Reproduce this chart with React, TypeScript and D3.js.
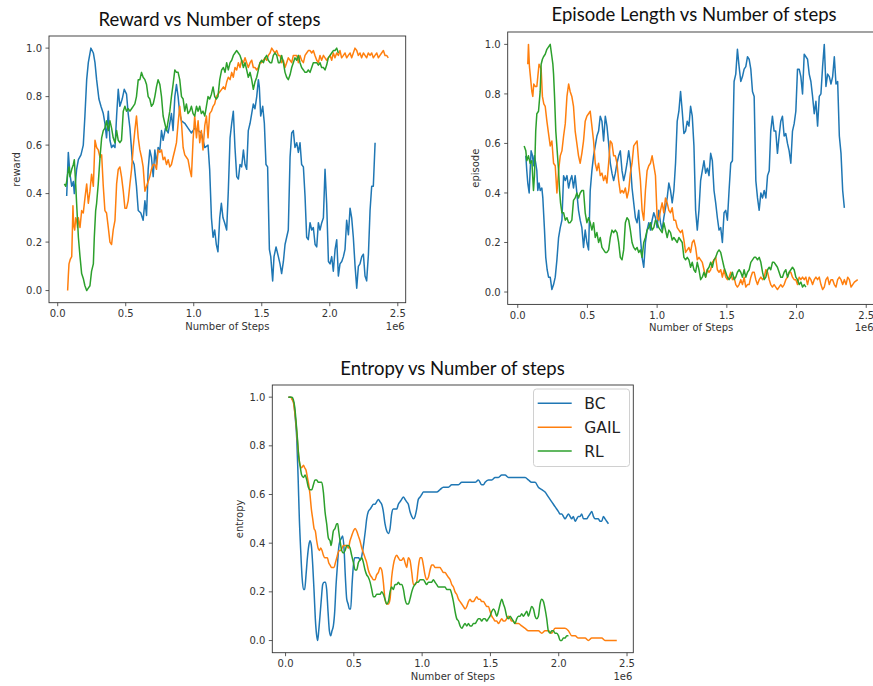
import React from 'react';
import * as d3 from 'd3';

type Pt = [number, number];

const SERIES_NAMES = ['BC', 'GAIL', 'RL'];
const COLORS = ['#1f77b4', '#ff7f0e', '#2ca02c'];
const X_TICKS = [0, 0.5, 1.0, 1.5, 2.0, 2.5];
const Y_TICKS = [0, 0.2, 0.4, 0.6, 0.8, 1.0];

// x in units of 1e6 steps, y normalised
const rewardBC: Pt[] = [[0.066,0.39],[0.078,0.57],[0.090,0.48],[0.103,0.43],[0.115,0.45],[0.122,0.40],[0.139,0.50],[0.152,0.54],[0.171,0.56],[0.188,0.60],[0.200,0.72],[0.213,0.87],[0.225,0.94],[0.244,1.00],[0.262,0.98],[0.274,0.94],[0.286,0.87],[0.303,0.79],[0.318,0.76],[0.335,0.73],[0.347,0.69],[0.359,0.63],[0.372,0.74],[0.384,0.62],[0.396,0.59],[0.408,0.60],[0.421,0.59],[0.433,0.72],[0.445,0.83],[0.457,0.76],[0.474,0.79],[0.489,0.83],[0.506,0.81],[0.518,0.73],[0.531,0.67],[0.548,0.54],[0.562,0.52],[0.579,0.43],[0.592,0.33],[0.611,0.32],[0.628,0.29],[0.641,0.37],[0.653,0.31],[0.665,0.50],[0.677,0.58],[0.689,0.55],[0.702,0.47],[0.714,0.58],[0.726,0.52],[0.738,0.59],[0.751,0.58],[0.763,0.66],[0.775,0.62],[0.792,0.67],[0.812,0.65],[0.824,0.69],[0.836,0.73],[0.848,0.66],[0.861,0.80],[0.873,0.85],[0.885,0.80],[0.897,0.73],[0.910,0.70],[0.934,0.69],[0.958,0.67],[0.983,0.65],[1.007,0.67],[1.032,0.66],[1.056,0.65],[1.081,0.59],[1.105,0.60],[1.117,0.50],[1.130,0.30],[1.142,0.22],[1.154,0.25],[1.166,0.19],[1.178,0.16],[1.191,0.30],[1.203,0.36],[1.215,0.30],[1.227,0.28],[1.242,0.25],[1.254,0.41],[1.267,0.63],[1.279,0.69],[1.291,0.74],[1.303,0.59],[1.316,0.47],[1.328,0.46],[1.340,0.52],[1.352,0.51],[1.365,0.58],[1.377,0.52],[1.389,0.50],[1.401,0.66],[1.414,0.69],[1.426,0.73],[1.438,0.77],[1.450,0.75],[1.463,0.80],[1.475,0.87],[1.482,0.84],[1.492,0.72],[1.507,0.76],[1.519,0.69],[1.531,0.52],[1.543,0.51],[1.556,0.17],[1.566,0.14],[1.580,0.04],[1.590,0.14],[1.605,0.18],[1.622,0.14],[1.634,0.11],[1.646,0.07],[1.659,0.12],[1.671,0.19],[1.683,0.22],[1.695,0.25],[1.708,0.55],[1.720,0.65],[1.732,0.66],[1.744,0.59],[1.757,0.61],[1.769,0.57],[1.781,0.61],[1.793,0.52],[1.806,0.51],[1.818,0.39],[1.830,0.22],[1.842,0.21],[1.855,0.28],[1.867,0.25],[1.879,0.26],[1.892,0.19],[1.904,0.18],[1.916,0.28],[1.928,0.25],[1.941,0.28],[1.953,0.30],[1.965,0.50],[1.977,0.36],[1.990,0.12],[2.002,0.11],[2.014,0.14],[2.026,0.08],[2.039,0.17],[2.051,0.21],[2.063,0.06],[2.075,0.11],[2.088,0.12],[2.100,0.14],[2.112,0.17],[2.124,0.29],[2.137,0.23],[2.149,0.34],[2.161,0.30],[2.173,0.22],[2.186,0.10],[2.198,0.01],[2.210,0.10],[2.222,0.11],[2.235,0.14],[2.247,0.15],[2.259,0.06],[2.271,0.04],[2.284,0.15],[2.296,0.33],[2.308,0.43],[2.320,0.43],[2.333,0.61]];

const rewardGAIL: Pt[] = [[0.073,0.00],[0.078,0.06],[0.083,0.11],[0.093,0.13],[0.103,0.14],[0.108,0.25],[0.112,0.35],[0.117,0.27],[0.125,0.25],[0.132,0.30],[0.139,0.29],[0.146,0.26],[0.152,0.30],[0.164,0.26],[0.176,0.33],[0.188,0.32],[0.200,0.38],[0.213,0.44],[0.225,0.36],[0.237,0.41],[0.249,0.48],[0.262,0.43],[0.274,0.62],[0.286,0.59],[0.298,0.58],[0.311,0.55],[0.323,0.56],[0.335,0.43],[0.347,0.33],[0.359,0.32],[0.372,0.26],[0.384,0.20],[0.396,0.19],[0.408,0.25],[0.421,0.29],[0.433,0.44],[0.445,0.50],[0.457,0.51],[0.469,0.47],[0.482,0.41],[0.494,0.34],[0.506,0.34],[0.518,0.37],[0.531,0.44],[0.543,0.50],[0.555,0.59],[0.567,0.66],[0.579,0.72],[0.592,0.63],[0.604,0.58],[0.616,0.55],[0.628,0.51],[0.641,0.41],[0.653,0.43],[0.665,0.45],[0.677,0.47],[0.689,0.50],[0.702,0.52],[0.714,0.52],[0.726,0.50],[0.738,0.58],[0.751,0.57],[0.763,0.58],[0.775,0.54],[0.787,0.55],[0.800,0.52],[0.812,0.54],[0.824,0.51],[0.836,0.52],[0.848,0.55],[0.861,0.58],[0.873,0.61],[0.885,0.69],[0.897,0.76],[0.910,0.69],[0.922,0.59],[0.934,0.56],[0.946,0.55],[0.958,0.54],[0.971,0.50],[0.983,0.47],[0.995,0.62],[1.007,0.72],[1.020,0.63],[1.032,0.70],[1.044,0.61],[1.056,0.66],[1.068,0.58],[1.081,0.68],[1.093,0.72],[1.105,0.63],[1.117,0.73],[1.130,0.74],[1.142,0.76],[1.154,0.77],[1.166,0.80],[1.178,0.81],[1.205,0.83],[1.218,0.84],[1.230,0.83],[1.242,0.86],[1.254,0.88],[1.267,0.87],[1.279,0.90],[1.291,0.88],[1.303,0.92],[1.316,0.91],[1.328,0.94],[1.340,0.92],[1.352,0.95],[1.365,0.94],[1.377,0.96],[1.389,0.94],[1.401,0.92],[1.414,0.94],[1.426,0.95],[1.438,0.92],[1.450,0.92],[1.463,0.91],[1.475,0.92],[1.487,0.94],[1.499,0.94],[1.512,0.95],[1.524,0.96],[1.536,0.95],[1.548,0.97],[1.561,0.98],[1.573,1.00],[1.585,0.99],[1.597,0.98],[1.610,0.99],[1.622,0.97],[1.634,0.97],[1.646,0.94],[1.659,0.95],[1.671,0.92],[1.683,0.94],[1.695,0.96],[1.708,0.95],[1.720,0.94],[1.732,0.97],[1.744,0.97],[1.757,0.97],[1.769,0.94],[1.781,0.97],[1.793,0.95],[1.806,0.94],[1.818,0.97],[1.830,0.98],[1.842,0.99],[1.855,0.99],[1.867,0.98],[1.879,0.99],[1.891,0.97],[1.904,0.95],[1.916,0.94],[1.928,0.97],[1.940,0.95],[1.953,0.97],[1.965,0.96],[1.977,0.95],[1.989,0.96],[2.002,0.97],[2.014,0.95],[2.026,0.98],[2.038,0.96],[2.051,0.98],[2.063,0.97],[2.075,0.99],[2.087,0.96],[2.100,0.97],[2.112,0.98],[2.124,0.96],[2.136,0.97],[2.149,0.98],[2.161,0.96],[2.173,0.98],[2.185,1.00],[2.198,0.99],[2.210,0.97],[2.222,0.98],[2.234,0.96],[2.247,0.98],[2.259,0.97],[2.271,0.96],[2.283,0.98],[2.296,0.97],[2.308,0.98],[2.320,0.96],[2.332,0.97],[2.345,0.98],[2.357,0.96],[2.369,0.97],[2.381,0.98],[2.394,0.99],[2.406,0.97],[2.418,0.97],[2.430,0.96]];

const rewardRL: Pt[] = [[0.049,0.44],[0.059,0.43],[0.066,0.45],[0.073,0.48],[0.083,0.51],[0.090,0.47],[0.103,0.50],[0.115,0.52],[0.122,0.54],[0.132,0.44],[0.139,0.36],[0.152,0.22],[0.164,0.14],[0.176,0.07],[0.188,0.05],[0.200,0.02],[0.213,0.00],[0.225,0.01],[0.237,0.02],[0.249,0.08],[0.262,0.11],[0.269,0.22],[0.279,0.33],[0.286,0.36],[0.298,0.44],[0.311,0.55],[0.323,0.63],[0.335,0.66],[0.347,0.67],[0.359,0.70],[0.372,0.66],[0.384,0.70],[0.396,0.67],[0.408,0.63],[0.421,0.61],[0.433,0.66],[0.445,0.62],[0.457,0.61],[0.469,0.62],[0.482,0.74],[0.494,0.76],[0.506,0.74],[0.518,0.75],[0.531,0.74],[0.543,0.75],[0.555,0.76],[0.567,0.77],[0.579,0.80],[0.592,0.87],[0.604,0.87],[0.616,0.90],[0.628,0.88],[0.641,0.87],[0.653,0.85],[0.665,0.80],[0.677,0.79],[0.689,0.76],[0.702,0.77],[0.714,0.80],[0.726,0.84],[0.738,0.87],[0.751,0.85],[0.763,0.80],[0.775,0.72],[0.787,0.69],[0.800,0.66],[0.812,0.70],[0.824,0.74],[0.836,0.80],[0.848,0.85],[0.861,0.91],[0.873,0.90],[0.885,0.90],[0.897,0.87],[0.910,0.80],[0.922,0.79],[0.934,0.74],[0.946,0.77],[0.958,0.73],[0.971,0.74],[0.983,0.76],[0.995,0.73],[1.007,0.72],[1.020,0.76],[1.032,0.74],[1.044,0.76],[1.056,0.73],[1.068,0.74],[1.081,0.72],[1.093,0.76],[1.105,0.80],[1.117,0.79],[1.130,0.81],[1.142,0.84],[1.154,0.80],[1.166,0.79],[1.178,0.80],[1.191,0.87],[1.205,0.91],[1.218,0.92],[1.230,0.90],[1.242,0.94],[1.254,0.91],[1.267,0.94],[1.279,0.95],[1.291,0.97],[1.303,0.98],[1.316,0.99],[1.328,0.98],[1.340,0.97],[1.352,0.95],[1.365,0.92],[1.377,0.94],[1.389,0.91],[1.401,0.88],[1.414,0.90],[1.426,0.87],[1.438,0.83],[1.450,0.86],[1.463,0.88],[1.475,0.91],[1.487,0.94],[1.499,0.95],[1.512,0.94],[1.524,0.96],[1.536,0.97],[1.548,0.95],[1.561,0.94],[1.573,0.94],[1.585,0.97],[1.597,0.98],[1.610,0.97],[1.622,0.94],[1.634,0.94],[1.646,0.97],[1.659,0.94],[1.671,0.90],[1.683,0.88],[1.695,0.87],[1.708,0.89],[1.720,0.92],[1.732,0.94],[1.744,0.96],[1.757,0.95],[1.769,0.97],[1.781,0.94],[1.793,0.92],[1.806,0.91],[1.818,0.90],[1.830,0.90],[1.842,0.91],[1.855,0.90],[1.867,0.92],[1.879,0.94],[1.891,0.94],[1.904,0.94],[1.916,0.93],[1.928,0.94],[1.940,0.92],[1.953,0.92],[1.965,0.91],[1.977,0.93],[1.989,0.96],[2.002,0.97],[2.014,0.98],[2.026,0.99],[2.038,0.99],[2.051,1.00],[2.063,0.98]];

const episodeBC: Pt[] = [[0.058,0.55],[0.065,0.49],[0.072,0.44],[0.082,0.40],[0.089,0.49],[0.096,0.57],[0.106,0.55],[0.113,0.51],[0.120,0.55],[0.129,0.52],[0.137,0.49],[0.144,0.41],[0.153,0.44],[0.161,0.41],[0.173,0.42],[0.180,0.38],[0.192,0.25],[0.201,0.14],[0.211,0.09],[0.221,0.06],[0.233,0.06],[0.245,0.01],[0.257,0.03],[0.269,0.06],[0.281,0.13],[0.293,0.22],[0.305,0.26],[0.317,0.29],[0.329,0.47],[0.341,0.45],[0.353,0.47],[0.365,0.42],[0.376,0.45],[0.388,0.47],[0.400,0.42],[0.412,0.47],[0.424,0.40],[0.436,0.33],[0.448,0.29],[0.460,0.26],[0.472,0.18],[0.484,0.25],[0.496,0.20],[0.508,0.17],[0.520,0.41],[0.532,0.49],[0.544,0.55],[0.556,0.59],[0.568,0.63],[0.580,0.65],[0.592,0.71],[0.604,0.69],[0.616,0.61],[0.628,0.71],[0.640,0.67],[0.652,0.60],[0.664,0.52],[0.676,0.48],[0.688,0.45],[0.700,0.48],[0.712,0.52],[0.724,0.55],[0.736,0.57],[0.748,0.49],[0.760,0.45],[0.772,0.48],[0.784,0.52],[0.796,0.57],[0.808,0.52],[0.820,0.42],[0.832,0.36],[0.844,0.30],[0.856,0.28],[0.868,0.33],[0.880,0.22],[0.892,0.14],[0.904,0.10],[0.916,0.20],[0.928,0.25],[0.940,0.28],[0.952,0.25],[0.964,0.29],[0.976,0.32],[0.988,0.30],[1.000,0.26],[1.012,0.33],[1.024,0.28],[1.036,0.25],[1.048,0.30],[1.060,0.34],[1.072,0.38],[1.084,0.44],[1.096,0.41],[1.108,0.36],[1.120,0.41],[1.132,0.52],[1.144,0.69],[1.156,0.73],[1.168,0.81],[1.180,0.73],[1.192,0.64],[1.204,0.65],[1.216,0.69],[1.228,0.67],[1.240,0.75],[1.252,0.71],[1.264,0.59],[1.276,0.33],[1.288,0.25],[1.300,0.33],[1.312,0.45],[1.324,0.49],[1.336,0.53],[1.348,0.48],[1.360,0.50],[1.372,0.47],[1.384,0.56],[1.396,0.53],[1.408,0.41],[1.420,0.36],[1.432,0.30],[1.444,0.25],[1.456,0.26],[1.468,0.20],[1.480,0.32],[1.492,0.33],[1.504,0.29],[1.516,0.41],[1.528,0.52],[1.540,0.53],[1.552,0.85],[1.564,0.88],[1.576,0.98],[1.588,0.91],[1.600,0.85],[1.612,0.87],[1.624,0.90],[1.636,0.91],[1.648,0.95],[1.660,0.94],[1.672,0.90],[1.684,0.81],[1.696,0.79],[1.708,0.45],[1.720,0.38],[1.732,0.33],[1.744,0.40],[1.756,0.38],[1.768,0.41],[1.780,0.38],[1.792,0.47],[1.804,0.49],[1.815,0.65],[1.827,0.71],[1.839,0.65],[1.851,0.65],[1.863,0.56],[1.875,0.63],[1.887,0.69],[1.899,0.71],[1.911,0.63],[1.923,0.64],[1.935,0.60],[1.947,0.57],[1.959,0.52],[1.971,0.65],[1.983,0.68],[1.995,0.73],[2.007,0.90],[2.019,0.90],[2.031,0.87],[2.043,0.80],[2.055,0.96],[2.067,0.95],[2.079,0.94],[2.091,0.88],[2.103,0.85],[2.115,0.79],[2.127,0.72],[2.139,0.77],[2.151,0.67],[2.163,0.79],[2.175,0.80],[2.187,0.91],[2.199,1.00],[2.211,0.83],[2.223,0.88],[2.235,0.87],[2.247,0.84],[2.259,0.87],[2.271,0.95],[2.283,0.84],[2.295,0.85],[2.307,0.63],[2.319,0.56],[2.331,0.41],[2.343,0.34]];

const episodeGAIL: Pt[] = [[0.072,0.92],[0.077,1.00],[0.084,0.91],[0.091,0.87],[0.101,0.81],[0.108,0.79],[0.115,0.84],[0.125,0.83],[0.137,0.83],[0.144,0.87],[0.153,0.92],[0.161,0.91],[0.168,0.90],[0.177,0.79],[0.187,0.76],[0.197,0.75],[0.209,0.69],[0.221,0.64],[0.233,0.59],[0.245,0.61],[0.257,0.52],[0.269,0.51],[0.281,0.40],[0.293,0.49],[0.305,0.55],[0.317,0.57],[0.329,0.63],[0.341,0.68],[0.353,0.79],[0.365,0.84],[0.376,0.81],[0.388,0.79],[0.400,0.75],[0.412,0.65],[0.424,0.60],[0.436,0.55],[0.448,0.52],[0.460,0.56],[0.472,0.61],[0.484,0.69],[0.496,0.71],[0.508,0.72],[0.520,0.73],[0.532,0.67],[0.544,0.61],[0.556,0.52],[0.568,0.49],[0.580,0.52],[0.592,0.47],[0.604,0.48],[0.616,0.45],[0.628,0.47],[0.640,0.44],[0.652,0.52],[0.664,0.61],[0.676,0.60],[0.688,0.55],[0.700,0.55],[0.712,0.52],[0.724,0.45],[0.736,0.40],[0.748,0.41],[0.760,0.40],[0.772,0.42],[0.784,0.38],[0.796,0.41],[0.808,0.48],[0.820,0.52],[0.832,0.59],[0.844,0.60],[0.856,0.61],[0.868,0.52],[0.880,0.45],[0.892,0.33],[0.904,0.29],[0.916,0.41],[0.928,0.49],[0.940,0.51],[0.952,0.52],[0.964,0.55],[0.976,0.51],[0.988,0.47],[1.000,0.30],[1.012,0.29],[1.024,0.33],[1.036,0.36],[1.048,0.32],[1.060,0.38],[1.072,0.36],[1.084,0.33],[1.096,0.32],[1.108,0.34],[1.120,0.29],[1.132,0.29],[1.144,0.26],[1.156,0.25],[1.168,0.24],[1.180,0.25],[1.192,0.21],[1.204,0.16],[1.216,0.17],[1.228,0.18],[1.240,0.16],[1.252,0.20],[1.264,0.21],[1.276,0.18],[1.288,0.13],[1.300,0.14],[1.312,0.13],[1.324,0.12],[1.336,0.09],[1.348,0.06],[1.360,0.09],[1.372,0.08],[1.384,0.09],[1.396,0.12],[1.408,0.13],[1.420,0.14],[1.432,0.09],[1.444,0.08],[1.456,0.09],[1.468,0.06],[1.480,0.09],[1.492,0.06],[1.504,0.05],[1.516,0.06],[1.528,0.08],[1.540,0.05],[1.552,0.06],[1.564,0.03],[1.576,0.02],[1.588,0.03],[1.600,0.05],[1.612,0.03],[1.624,0.06],[1.636,0.02],[1.648,0.03],[1.660,0.03],[1.672,0.06],[1.684,0.08],[1.696,0.08],[1.708,0.05],[1.720,0.03],[1.732,0.05],[1.744,0.06],[1.756,0.05],[1.768,0.06],[1.780,0.09],[1.792,0.08],[1.804,0.05],[1.815,0.03],[1.827,0.02],[1.839,0.03],[1.851,0.02],[1.863,0.01],[1.875,0.02],[1.887,0.03],[1.899,0.02],[1.911,0.03],[1.923,0.05],[1.935,0.06],[1.947,0.08],[1.959,0.08],[1.971,0.06],[1.983,0.05],[1.995,0.05],[2.007,0.03],[2.019,0.06],[2.031,0.05],[2.043,0.06],[2.055,0.05],[2.067,0.06],[2.079,0.03],[2.091,0.06],[2.103,0.05],[2.115,0.03],[2.127,0.05],[2.139,0.06],[2.151,0.05],[2.163,0.06],[2.175,0.03],[2.187,0.01],[2.199,0.02],[2.211,0.05],[2.223,0.06],[2.235,0.03],[2.247,0.05],[2.259,0.05],[2.271,0.03],[2.283,0.02],[2.295,0.05],[2.307,0.06],[2.319,0.05],[2.331,0.03],[2.343,0.05],[2.355,0.03],[2.367,0.06],[2.379,0.05],[2.391,0.02],[2.403,0.03],[2.415,0.04],[2.439,0.05]];

const episodeRL: Pt[] = [[0.046,0.59],[0.058,0.57],[0.065,0.53],[0.077,0.55],[0.089,0.52],[0.101,0.53],[0.113,0.41],[0.120,0.47],[0.129,0.65],[0.137,0.72],[0.149,0.73],[0.161,0.81],[0.168,0.92],[0.177,0.94],[0.185,0.95],[0.197,0.96],[0.209,0.98],[0.221,0.99],[0.233,1.00],[0.245,0.95],[0.252,0.92],[0.257,0.88],[0.264,0.79],[0.273,0.65],[0.283,0.57],[0.293,0.49],[0.300,0.41],[0.307,0.36],[0.317,0.32],[0.329,0.32],[0.341,0.29],[0.353,0.30],[0.365,0.28],[0.376,0.28],[0.388,0.29],[0.400,0.37],[0.412,0.38],[0.424,0.40],[0.436,0.38],[0.448,0.40],[0.460,0.41],[0.472,0.41],[0.484,0.32],[0.496,0.28],[0.508,0.30],[0.520,0.28],[0.532,0.25],[0.544,0.28],[0.556,0.22],[0.568,0.24],[0.580,0.20],[0.592,0.22],[0.604,0.18],[0.616,0.17],[0.628,0.16],[0.640,0.16],[0.652,0.17],[0.664,0.22],[0.676,0.25],[0.688,0.24],[0.700,0.25],[0.712,0.24],[0.724,0.20],[0.736,0.14],[0.748,0.13],[0.760,0.17],[0.772,0.28],[0.784,0.30],[0.796,0.29],[0.808,0.25],[0.820,0.20],[0.832,0.18],[0.844,0.17],[0.856,0.18],[0.868,0.16],[0.880,0.17],[0.892,0.14],[0.904,0.20],[0.916,0.22],[0.928,0.25],[0.940,0.26],[0.952,0.28],[0.964,0.25],[0.976,0.26],[0.988,0.29],[1.000,0.28],[1.012,0.26],[1.024,0.25],[1.036,0.24],[1.048,0.28],[1.060,0.25],[1.072,0.22],[1.084,0.25],[1.096,0.24],[1.108,0.21],[1.120,0.22],[1.132,0.21],[1.144,0.20],[1.156,0.22],[1.168,0.21],[1.180,0.20],[1.192,0.14],[1.204,0.13],[1.216,0.14],[1.228,0.13],[1.240,0.10],[1.252,0.12],[1.264,0.09],[1.276,0.08],[1.288,0.12],[1.300,0.09],[1.312,0.05],[1.324,0.06],[1.336,0.08],[1.348,0.06],[1.360,0.09],[1.372,0.10],[1.384,0.12],[1.396,0.10],[1.408,0.13],[1.420,0.14],[1.432,0.16],[1.444,0.17],[1.456,0.16],[1.468,0.13],[1.480,0.10],[1.492,0.08],[1.504,0.06],[1.516,0.05],[1.528,0.06],[1.540,0.08],[1.552,0.05],[1.564,0.06],[1.576,0.08],[1.588,0.09],[1.600,0.08],[1.612,0.06],[1.624,0.09],[1.636,0.06],[1.648,0.08],[1.660,0.09],[1.672,0.12],[1.684,0.13],[1.696,0.14],[1.708,0.14],[1.720,0.13],[1.732,0.14],[1.744,0.12],[1.756,0.08],[1.768,0.05],[1.780,0.06],[1.792,0.09],[1.804,0.10],[1.815,0.09],[1.827,0.12],[1.839,0.12],[1.851,0.11],[1.863,0.10],[1.875,0.08],[1.887,0.06],[1.899,0.06],[1.911,0.08],[1.923,0.09],[1.935,0.06],[1.947,0.08],[1.959,0.09],[1.971,0.10],[1.983,0.09],[1.995,0.06],[2.007,0.05],[2.019,0.03],[2.031,0.04],[2.043,0.02],[2.055,0.03],[2.067,0.02]];

const entropyBC: Pt[] = [[0.021,1.00],[0.038,1.00],[0.052,0.99],[0.062,0.97],[0.072,0.91],[0.082,0.83],[0.092,0.67],[0.101,0.50],[0.111,0.37],[0.121,0.26],[0.131,0.21],[0.140,0.21],[0.150,0.27],[0.160,0.34],[0.170,0.39],[0.179,0.41],[0.189,0.39],[0.199,0.31],[0.209,0.20],[0.218,0.09],[0.228,0.02],[0.235,0.00],[0.243,0.04],[0.252,0.10],[0.262,0.17],[0.272,0.23],[0.282,0.24],[0.292,0.24],[0.301,0.21],[0.311,0.12],[0.321,0.04],[0.331,0.02],[0.340,0.04],[0.350,0.06],[0.360,0.12],[0.370,0.23],[0.380,0.31],[0.389,0.38],[0.399,0.41],[0.409,0.42],[0.418,0.43],[0.428,0.38],[0.438,0.26],[0.448,0.17],[0.458,0.15],[0.467,0.13],[0.477,0.13],[0.487,0.23],[0.497,0.31],[0.506,0.34],[0.516,0.34],[0.526,0.34],[0.536,0.34],[0.545,0.33],[0.555,0.34],[0.565,0.37],[0.575,0.41],[0.584,0.45],[0.594,0.50],[0.606,0.53],[0.619,0.54],[0.631,0.55],[0.643,0.56],[0.655,0.56],[0.667,0.57],[0.680,0.58],[0.692,0.57],[0.704,0.56],[0.716,0.53],[0.728,0.48],[0.741,0.45],[0.753,0.44],[0.765,0.46],[0.777,0.52],[0.789,0.54],[0.802,0.54],[0.814,0.54],[0.826,0.56],[0.838,0.57],[0.850,0.58],[0.863,0.59],[0.875,0.58],[0.887,0.57],[0.899,0.56],[0.911,0.53],[0.924,0.51],[0.936,0.50],[0.948,0.51],[0.960,0.54],[0.972,0.58],[0.985,0.59],[0.997,0.60],[1.009,0.61],[1.033,0.61],[1.058,0.61],[1.082,0.61],[1.107,0.61],[1.131,0.62],[1.155,0.63],[1.180,0.63],[1.192,0.63],[1.217,0.64],[1.241,0.64],[1.266,0.64],[1.290,0.65],[1.314,0.65],[1.339,0.65],[1.363,0.65],[1.388,0.65],[1.412,0.66],[1.436,0.64],[1.449,0.64],[1.461,0.65],[1.485,0.66],[1.510,0.66],[1.534,0.67],[1.558,0.67],[1.583,0.68],[1.607,0.68],[1.632,0.67],[1.656,0.67],[1.680,0.67],[1.705,0.67],[1.729,0.67],[1.754,0.67],[1.778,0.66],[1.802,0.65],[1.827,0.65],[1.851,0.63],[1.876,0.62],[1.900,0.61],[1.924,0.59],[1.949,0.57],[1.973,0.55],[1.998,0.53],[2.010,0.52],[2.022,0.52],[2.034,0.51],[2.046,0.50],[2.059,0.51],[2.071,0.52],[2.083,0.51],[2.095,0.50],[2.107,0.51],[2.120,0.49],[2.132,0.50],[2.144,0.51],[2.156,0.51],[2.168,0.52],[2.181,0.50],[2.193,0.50],[2.205,0.50],[2.217,0.51],[2.229,0.52],[2.242,0.53],[2.254,0.51],[2.266,0.50],[2.278,0.50],[2.290,0.50],[2.303,0.49],[2.315,0.49],[2.327,0.51],[2.339,0.50],[2.351,0.49],[2.364,0.48]];

const entropyGAIL: Pt[] = [[0.021,1.00],[0.038,1.00],[0.048,0.99],[0.057,0.98],[0.067,0.94],[0.077,0.89],[0.087,0.82],[0.096,0.76],[0.106,0.72],[0.118,0.71],[0.131,0.72],[0.140,0.71],[0.150,0.70],[0.160,0.67],[0.170,0.64],[0.179,0.60],[0.189,0.54],[0.199,0.50],[0.209,0.46],[0.218,0.45],[0.228,0.41],[0.238,0.38],[0.248,0.37],[0.257,0.38],[0.267,0.37],[0.277,0.35],[0.287,0.34],[0.296,0.34],[0.306,0.34],[0.316,0.32],[0.326,0.31],[0.336,0.30],[0.345,0.30],[0.355,0.30],[0.365,0.32],[0.375,0.34],[0.384,0.36],[0.394,0.37],[0.404,0.37],[0.414,0.38],[0.423,0.39],[0.436,0.39],[0.448,0.39],[0.460,0.38],[0.472,0.41],[0.484,0.43],[0.497,0.45],[0.509,0.46],[0.521,0.45],[0.533,0.43],[0.545,0.41],[0.558,0.38],[0.570,0.36],[0.582,0.34],[0.594,0.32],[0.606,0.29],[0.619,0.27],[0.631,0.26],[0.643,0.25],[0.655,0.25],[0.667,0.27],[0.680,0.28],[0.692,0.30],[0.704,0.29],[0.716,0.24],[0.728,0.17],[0.741,0.15],[0.753,0.15],[0.765,0.17],[0.777,0.26],[0.789,0.31],[0.802,0.34],[0.814,0.35],[0.826,0.34],[0.838,0.33],[0.850,0.33],[0.863,0.34],[0.875,0.32],[0.887,0.30],[0.899,0.34],[0.911,0.33],[0.924,0.28],[0.936,0.23],[0.948,0.23],[0.960,0.24],[0.972,0.30],[0.985,0.34],[0.997,0.34],[1.009,0.31],[1.021,0.27],[1.033,0.25],[1.046,0.26],[1.058,0.29],[1.070,0.31],[1.082,0.31],[1.094,0.30],[1.107,0.30],[1.119,0.30],[1.131,0.30],[1.143,0.29],[1.155,0.28],[1.168,0.28],[1.180,0.27],[1.192,0.26],[1.205,0.25],[1.217,0.23],[1.229,0.22],[1.241,0.20],[1.253,0.19],[1.266,0.17],[1.278,0.16],[1.290,0.15],[1.302,0.14],[1.314,0.13],[1.327,0.14],[1.339,0.16],[1.351,0.17],[1.363,0.16],[1.375,0.16],[1.388,0.17],[1.400,0.18],[1.412,0.17],[1.424,0.17],[1.436,0.16],[1.449,0.16],[1.461,0.15],[1.473,0.14],[1.485,0.14],[1.497,0.12],[1.510,0.10],[1.522,0.09],[1.534,0.08],[1.546,0.08],[1.558,0.07],[1.571,0.08],[1.583,0.09],[1.595,0.08],[1.607,0.08],[1.619,0.09],[1.632,0.10],[1.644,0.09],[1.656,0.08],[1.668,0.08],[1.680,0.07],[1.705,0.07],[1.729,0.06],[1.754,0.05],[1.778,0.04],[1.802,0.04],[1.827,0.04],[1.851,0.04],[1.876,0.03],[1.900,0.04],[1.924,0.04],[1.949,0.03],[1.973,0.05],[1.998,0.05],[2.022,0.05],[2.046,0.05],[2.071,0.04],[2.095,0.02],[2.120,0.02],[2.144,0.01],[2.168,0.01],[2.193,0.01],[2.217,0.00],[2.242,0.01],[2.266,0.01],[2.290,0.01],[2.315,0.01],[2.339,0.00],[2.364,0.00],[2.388,0.00],[2.425,0.00]];

const entropyRL: Pt[] = [[0.021,1.00],[0.038,1.00],[0.048,1.00],[0.057,0.99],[0.067,0.96],[0.077,0.90],[0.087,0.83],[0.096,0.76],[0.106,0.72],[0.118,0.68],[0.131,0.67],[0.143,0.68],[0.155,0.66],[0.167,0.63],[0.179,0.62],[0.192,0.62],[0.204,0.64],[0.216,0.66],[0.228,0.66],[0.240,0.65],[0.252,0.65],[0.265,0.65],[0.277,0.61],[0.289,0.53],[0.301,0.48],[0.314,0.42],[0.326,0.41],[0.333,0.39],[0.340,0.41],[0.350,0.45],[0.362,0.46],[0.375,0.48],[0.382,0.48],[0.389,0.45],[0.399,0.41],[0.411,0.37],[0.423,0.36],[0.436,0.37],[0.448,0.39],[0.460,0.39],[0.472,0.38],[0.484,0.35],[0.497,0.32],[0.509,0.29],[0.521,0.29],[0.533,0.32],[0.545,0.33],[0.558,0.34],[0.570,0.32],[0.582,0.29],[0.594,0.27],[0.606,0.26],[0.619,0.24],[0.631,0.21],[0.643,0.18],[0.655,0.18],[0.667,0.19],[0.680,0.19],[0.692,0.19],[0.704,0.20],[0.716,0.19],[0.728,0.17],[0.741,0.15],[0.753,0.16],[0.765,0.20],[0.777,0.22],[0.789,0.21],[0.802,0.23],[0.814,0.23],[0.826,0.24],[0.838,0.23],[0.850,0.23],[0.863,0.21],[0.875,0.17],[0.887,0.15],[0.899,0.15],[0.911,0.17],[0.924,0.20],[0.936,0.22],[0.948,0.23],[0.960,0.24],[0.972,0.24],[0.985,0.25],[0.997,0.25],[1.009,0.25],[1.021,0.24],[1.033,0.23],[1.046,0.24],[1.058,0.24],[1.070,0.24],[1.082,0.25],[1.094,0.24],[1.107,0.23],[1.119,0.22],[1.131,0.22],[1.143,0.22],[1.155,0.22],[1.168,0.22],[1.180,0.21],[1.192,0.21],[1.205,0.21],[1.217,0.19],[1.229,0.16],[1.241,0.12],[1.253,0.09],[1.266,0.08],[1.278,0.06],[1.290,0.05],[1.302,0.06],[1.314,0.07],[1.327,0.06],[1.339,0.07],[1.351,0.06],[1.363,0.06],[1.375,0.07],[1.388,0.07],[1.400,0.08],[1.412,0.09],[1.424,0.09],[1.436,0.08],[1.449,0.09],[1.461,0.09],[1.473,0.08],[1.485,0.09],[1.497,0.10],[1.510,0.12],[1.522,0.13],[1.534,0.12],[1.546,0.10],[1.558,0.12],[1.571,0.15],[1.583,0.17],[1.595,0.15],[1.607,0.13],[1.619,0.10],[1.632,0.09],[1.644,0.10],[1.656,0.09],[1.668,0.08],[1.680,0.07],[1.693,0.09],[1.705,0.10],[1.717,0.10],[1.729,0.11],[1.741,0.10],[1.754,0.11],[1.766,0.12],[1.778,0.10],[1.790,0.12],[1.802,0.14],[1.815,0.13],[1.827,0.10],[1.839,0.09],[1.851,0.10],[1.863,0.15],[1.876,0.17],[1.888,0.16],[1.900,0.13],[1.912,0.09],[1.924,0.04],[1.937,0.03],[1.949,0.04],[1.961,0.04],[1.973,0.03],[1.985,0.03],[1.998,0.02],[2.010,0.00],[2.022,0.00],[2.034,0.01],[2.046,0.01],[2.059,0.02],[2.071,0.02]];

interface PanelProps {
  title: string;
  titleX: number;
  titleY: number;
  ylabel: string;
  box: { left: number; top: number; right: number; bottom: number };
  xDomain: [number, number];
  series: Pt[][];
  smooth?: boolean;
  legend?: boolean;
}

const TICK_FONT = 'DejaVu Sans, sans-serif';
const INK = '#333';

const Panel: React.FC<PanelProps> = ({ title, titleX, titleY, ylabel, box, xDomain, series, smooth, legend }) => {
  const x = d3.scaleLinear().domain(xDomain).range([box.left, box.right]);
  const y = d3.scaleLinear().domain([-0.05, 1.05]).range([box.bottom, box.top]);
  const line = d3.line<Pt>()
    .x(d => x(d[0]))
    .y(d => y(d[1]))
    .curve(smooth ? d3.curveMonotoneX : d3.curveLinear);
  const fmt = d3.format('.1f');

  return (
    <g>
      <text x={titleX} y={titleY} textAnchor="middle" fontFamily="Lato, sans-serif" fontSize={18.5} fill="#111">{title}</text>

      {series.map((s, i) => (
        <path key={i} d={line(s) || ''} fill="none" stroke={COLORS[i]} strokeWidth={1.5} strokeLinejoin="round" />
      ))}

      <rect x={box.left} y={box.top} width={box.right - box.left} height={box.bottom - box.top} fill="none" stroke={INK} strokeWidth={0.9} />

      {/* x axis */}
      {X_TICKS.map(t => (
        <g key={'x' + t}>
          <line x1={x(t)} x2={x(t)} y1={box.bottom} y2={box.bottom + 3.5} stroke={INK} strokeWidth={0.8} />
          <text x={x(t)} y={box.bottom + 14.5} textAnchor="middle" fontFamily={TICK_FONT} fontSize={10} fill={INK}>{fmt(t)}</text>
        </g>
      ))}
      <text x={(box.left + Math.min(box.right, 873)) / 2 + (box.right > 873 ? (box.right - 873) / 2 : 0)} y={box.bottom + 27} textAnchor="middle" fontFamily={TICK_FONT} fontSize={10} fill={INK}>Number of Steps</text>
      <text x={box.right - 1} y={box.bottom + 27} textAnchor="end" fontFamily={TICK_FONT} fontSize={10} fill={INK}>1e6</text>

      {/* y axis */}
      {Y_TICKS.map(t => (
        <g key={'y' + t}>
          <line x1={box.left - 3.5} x2={box.left} y1={y(t)} y2={y(t)} stroke={INK} strokeWidth={0.8} />
          <text x={box.left - 7} y={y(t) + 3.6} textAnchor="end" fontFamily={TICK_FONT} fontSize={10} fill={INK}>{fmt(t)}</text>
        </g>
      ))}
      <text transform={`translate(${box.left - 29},${(box.top + box.bottom) / 2}) rotate(-90)`} textAnchor="middle" fontFamily={TICK_FONT} fontSize={10} fill={INK}>{ylabel}</text>

      {legend && (
        <g>
          <rect x={533.5} y={389} width={96} height={77.5} rx={3} fill="#fff" fillOpacity={0.8} stroke="#d0d0d0" strokeWidth={1} />
          {SERIES_NAMES.map((name, i) => {
            const ly = 403.3 + i * 23.85;
            return (
              <g key={name}>
                <line x1={537.7} x2={571.7} y1={ly} y2={ly} stroke={COLORS[i]} strokeWidth={1.5} />
                <text x={584.3} y={ly + 5.8} fontFamily={TICK_FONT} fontSize={15.5} fill="#222">{name}</text>
              </g>
            );
          })}
        </g>
      )}
    </g>
  );
};

export default function App() {
  return (
    <svg width={873} height={686} style={{ position: 'absolute', left: 0, top: 0, background: '#fff' }}>
      <rect width={873} height={686} fill="#fff" />
      <Panel
        title="Reward vs Number of steps"
        titleX={209.5}
        titleY={25.5}
        ylabel="reward"
        box={{ left: 49, top: 36, right: 405.7, bottom: 302.7 }}
        xDomain={[-0.064, 2.558]}
        series={[rewardBC, rewardGAIL, rewardRL]}
      />
      <Panel
        title="Episode Length vs Number of steps"
        titleX={694}
        titleY={20.7}
        ylabel="episode"
        box={{ left: 507.7, top: 32, right: 874.6, bottom: 304.4 }}
        xDomain={[-0.072, 2.56]}
        series={[episodeBC, episodeGAIL, episodeRL]}
      />
      <Panel
        title="Entropy vs Number of steps"
        titleX={452.5}
        titleY={375}
        ylabel="entropy"
        box={{ left: 272.3, top: 385, right: 633.3, bottom: 652.7 }}
        xDomain={[-0.097, 2.546]}
        series={[entropyBC, entropyGAIL, entropyRL]}
        smooth
        legend
      />
    </svg>
  );
}
